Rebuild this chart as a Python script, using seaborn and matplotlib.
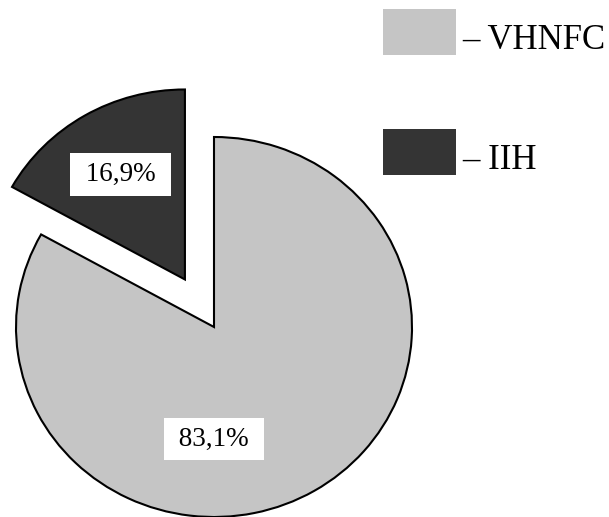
import matplotlib
matplotlib.use("Agg")
import matplotlib.pyplot as plt
import matplotlib.patches as mpatches
from matplotlib.legend_handler import HandlerPatch
import seaborn as sns
import numpy as np

# Share of each group
groups = ["IIH", "VHNFC"]
shares = [16.9, 83.1]
fill_colors = ["#343434", "#c5c5c5"]
explode = [0.29, 0.0]

sns.set_theme(style="white")
plt.rcParams["font.family"] = ["Liberation Serif", "DejaVu Serif"]
plt.rcParams["text.color"] = "black"

W, H, DPI = 609, 517, 100
fig = plt.figure(figsize=(W / DPI, H / DPI), dpi=DPI)
ax = fig.add_axes([0, 0, 1, 1])

def fmt(v):
    return f"{v:.1f}".replace(".", ",") + "%"

wedges, _ = ax.pie(
    shares,
    explode=explode,
    colors=fill_colors,
    startangle=90,
    counterclock=True,
    radius=1.0,
    wedgeprops=dict(edgecolor="black", linewidth=1.5),
)

# Percentage labels in white boxes
box = dict(boxstyle="square,pad=0.32", facecolor="white", edgecolor="none")
w_small = wedges[0]
mid = np.deg2rad((w_small.theta1 + w_small.theta2) / 2)
cx, cy = w_small.center
ax.text(cx + 0.64 * np.cos(mid), cy + 0.64 * np.sin(mid), " " + fmt(shares[0]) + " ",
        ha="center", va="center", fontsize=19.5, color="black", bbox=box, zorder=5)
cx, cy = wedges[1].center
ax.text(cx, cy - 0.59, " " + fmt(shares[1]) + " ",
        ha="center", va="center", fontsize=19.5, color="black", bbox=box, zorder=5)

# Slightly wider than tall, as drawn
ax.set_aspect("auto")
ax.set_xlim(-214 / 198, (W - 214) / 198)
ax.set_ylim(-190 / 190, (H - 190) / 190)
ax.axis("off")


def raised_swatch(legend, orig_handle, xdescent, ydescent, width, height, fontsize):
    # swatch sits a little higher than the label text
    return mpatches.Rectangle((-xdescent, -ydescent + 4), width, height)


handles = [wedges[1], wedges[0]]
labels = ["– " + groups[1], "– " + groups[0]]
leg = fig.legend(
    handles, labels,
    loc="upper left", bbox_to_anchor=(383 / W, 1 - 15 / H),
    frameon=False, fontsize=25, labelcolor="black",
    handlelength=2.1, handleheight=1.66, handletextpad=0.18,
    labelspacing=2.13, borderpad=0, borderaxespad=0,
    handler_map={mpatches.Wedge: HandlerPatch(patch_func=raised_swatch)},
)
for h in leg.legend_handles:
    h.set_edgecolor("none")

fig.savefig("out.png", dpi=DPI)
